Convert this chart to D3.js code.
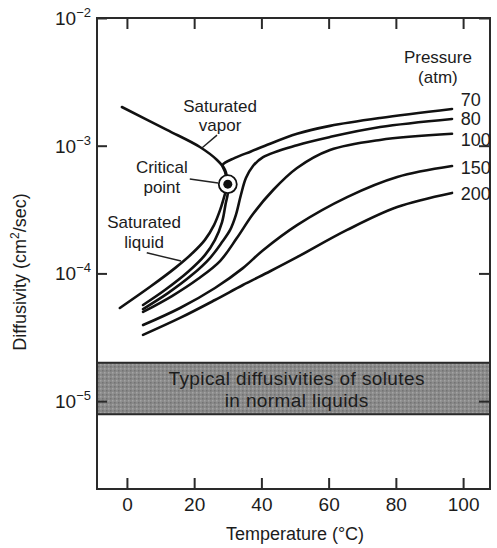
<!DOCTYPE html>
<html>
<head>
<meta charset="utf-8">
<script src="https://cdn.jsdelivr.net/npm/d3@7"></script>
<style>
  html, body { margin: 0; padding: 0; background: #fff; }
  svg text { font-family: "Liberation Sans", Arial, sans-serif; fill: #1c1c1c; }
</style>
</head>
<body>
<svg id="chart" width="497" height="548"></svg>
<script>
// Axis ticks
const temperatureTicks = [0, 20, 40, 60, 80, 100];
const diffusivityTicks = [1e-2, 1e-3, 1e-4, 1e-5];
const tickExponents = ["\u22122", "\u22123", "\u22124", "\u22125"];

// Curves: [temperature (°C), diffusivity (cm²/sec)]
const saturatedVapor = [[-1.5, 2.01e-3], [11.9, 1.33e-3], [21.7, 9.77e-4], [26.8, 7.73e-4], [29.2, 6.46e-4], [30, 5.0e-4]];
const saturatedLiquid = [[-2.1, 5.36e-5], [6.8, 7.82e-5], [14.3, 1.10e-4], [19.6, 1.45e-4], [23.2, 1.83e-4], [25.9, 2.39e-4], [27.7, 3.13e-4], [28.9, 3.96e-4], [30, 5.0e-4]];
const iso70 = [[4.8, 5.66e-5], [11.3, 7.41e-5], [18.2, 1.03e-4], [23.2, 1.39e-4], [26.2, 1.83e-4], [28.3, 2.52e-4], [29.3, 3.44e-4], [30.1, 4.5e-4], [29.2, 6.22e-4], [28.5, 7.06e-4], [32.1, 8.02e-4], [36.9, 9.01e-4], [41.1, 1.00e-3], [50.6, 1.24e-3], [60.4, 1.43e-3], [75.3, 1.65e-3], [96.7, 1.94e-3]];
const iso80 = [[4.8, 5.26e-5], [12.2, 7.01e-5], [19.3, 9.70e-5], [24.7, 1.32e-4], [28.3, 1.76e-4], [30.7, 2.19e-4], [32.4, 2.86e-4], [33.9, 4.11e-4], [35.4, 5.58e-4], [37.5, 6.93e-4], [40.5, 8.15e-4], [50.6, 1.01e-3], [60.4, 1.17e-3], [75.3, 1.40e-3], [96.7, 1.62e-3]];
const iso100 = [[4.8, 4.99e-5], [13.4, 6.65e-5], [21.1, 9.04e-5], [27.7, 1.25e-4], [32.7, 1.89e-4], [37.5, 2.92e-4], [43.5, 4.50e-4], [50.6, 6.69e-4], [60.4, 9.25e-4], [75.3, 1.11e-3], [96.7, 1.24e-3]];
const iso150 = [[4.8, 3.94e-5], [15.8, 5.36e-5], [26.2, 7.69e-5], [34.5, 1.10e-4], [40.5, 1.52e-4], [50.6, 2.39e-4], [65.5, 3.96e-4], [80.4, 5.69e-4], [96.7, 6.93e-4]];
const iso200 = [[4.8, 3.30e-5], [15.8, 4.48e-5], [26.2, 6.19e-5], [34.5, 8.11e-5], [42.6, 1.04e-4], [50.6, 1.34e-4], [65.5, 2.19e-4], [80.4, 3.31e-4], [96.7, 4.27e-4]];
const pressures = ["70", "80", "100", "150", "200"];
const isobars = [iso70, iso80, iso100, iso150, iso200];

const criticalPoint = [30, 5.0e-4];
// Range of solute diffusivities in ordinary liquids
const soluteBand = [7.9e-6, 2.0e-5];

const svg = d3.select("#chart");
const x = d3.scaleLinear().domain([-8.9, 108]).range([97, 490]);
const y = d3.scaleLog().domain([2.05e-6, 1e-2]).range([489, 18]);
const [x0, x1] = x.range();
const [yb, yt] = y.range();

// Halftone-like grey for the shaded band
const defs = svg.append("defs");
const pat = defs.append("pattern").attr("id", "grain")
  .attr("width", 4).attr("height", 4).attr("patternUnits", "userSpaceOnUse");
pat.append("rect").attr("width", 4).attr("height", 4).attr("fill", "#8a8a8a");
pat.append("rect").attr("x", 0).attr("y", 0).attr("width", 1.5).attr("height", 1.5).attr("fill", "#a4a4a4");
pat.append("rect").attr("x", 2).attr("y", 2).attr("width", 1.5).attr("height", 1.5).attr("fill", "#737373");

svg.append("rect")
  .attr("x", x0).attr("y", y(soluteBand[1]))
  .attr("width", x1 - x0).attr("height", y(soluteBand[0]) - y(soluteBand[1]))
  .attr("fill", "url(#grain)");
[soluteBand[0], soluteBand[1]].forEach(v => {
  svg.append("line").attr("x1", x0).attr("x2", x1).attr("y1", y(v)).attr("y2", y(v))
    .attr("stroke", "#2a2a2a").attr("stroke-width", 2);
});
const bandText = svg.append("text").attr("text-anchor", "middle")
  .attr("font-size", 19).attr("letter-spacing", 0.4).attr("fill", "#151515");
bandText.append("tspan").attr("x", x(50.5)).attr("y", y(soluteBand[1]) + 22).text("Typical diffusivities of solutes");
bandText.append("tspan").attr("x", x(50.5)).attr("dy", 22).text("in normal liquids");

// Axes with inward ticks on all four sides
function styleAxis(g) {
  g.select(".domain").remove();
  g.selectAll(".tick line").attr("stroke", "#2a2a2a").attr("stroke-width", 2);
}
svg.append("g").attr("transform", `translate(0,${yb})`)
  .call(d3.axisBottom(x).tickValues(temperatureTicks).tickSize(-11).tickPadding(9).tickFormat(d3.format("d")))
  .call(styleAxis)
  .call(g => g.selectAll(".tick text").attr("font-size", 19).attr("font-family", "Liberation Sans, Arial, sans-serif").attr("fill", "#1c1c1c"));
svg.append("g").attr("transform", `translate(0,${yt})`)
  .call(d3.axisTop(x).tickValues(temperatureTicks).tickSize(-11).tickFormat(""))
  .call(styleAxis);
svg.append("g").attr("transform", `translate(${x0},0)`)
  .call(d3.axisLeft(y).tickValues(diffusivityTicks).tickSize(-10).tickFormat(""))
  .call(styleAxis);
svg.append("g").attr("transform", `translate(${x1},0)`)
  .call(d3.axisRight(y).tickValues(diffusivityTicks).tickSize(-11).tickFormat(""))
  .call(styleAxis);

// Power-of-ten labels
diffusivityTicks.forEach((v, i) => {
  const t = svg.append("text").attr("x", 91).attr("y", y(v) + 7)
    .attr("text-anchor", "end").attr("font-size", 19);
  t.append("tspan").text("10");
  t.append("tspan").attr("dy", -8).attr("font-size", 13).text(tickExponents[i]);
});

// Plot frame
svg.append("rect").attr("x", x0).attr("y", yt)
  .attr("width", x1 - x0).attr("height", yb - yt)
  .attr("fill", "none").attr("stroke", "#2a2a2a").attr("stroke-width", 2);

// Curves
const line = d3.line()
  .x(d => x(d[0])).y(d => y(d[1]))
  .curve(d3.curveCatmullRom.alpha(0.5));
const curves = svg.append("g").attr("fill", "none").attr("stroke", "#111")
  .attr("stroke-width", 2.6).attr("stroke-linecap", "round");
[saturatedVapor, saturatedLiquid, ...isobars].forEach(c => curves.append("path").attr("d", line(c)));

// Critical point marker
svg.append("circle").attr("cx", x(criticalPoint[0])).attr("cy", y(criticalPoint[1]))
  .attr("r", 9).attr("fill", "#fff").attr("stroke", "#111").attr("stroke-width", 1.8);
svg.append("circle").attr("cx", x(criticalPoint[0])).attr("cy", y(criticalPoint[1]))
  .attr("r", 4.5).attr("fill", "#111");

// Pressure labels at the curve ends
const labelShift = [-3, 6, 12, 8, 7];
isobars.forEach((c, i) => {
  const end = c[c.length - 1];
  svg.append("text").attr("x", x(99.3)).attr("y", y(end[1]) + labelShift[i])
    .attr("font-size", 18).text(pressures[i]);
});

// Annotations
const notes = [
  { lines: ["Saturated", "vapor"], t: 27.7, d: 1.84e-3, gap: 19 },
  { lines: ["Critical", "point"], t: 10.4, d: 6.11e-4, gap: 20 },
  { lines: ["Saturated", "liquid"], t: 5.1, d: 2.27e-4, gap: 20 },
  { lines: ["Pressure", "(atm)"], t: 92.5, d: 4.44e-3, gap: 20 }
];
notes.forEach(n => {
  const t = svg.append("text").attr("text-anchor", "middle").attr("font-size", 17);
  n.lines.forEach((s, k) => t.append("tspan").attr("x", x(n.t))
    .attr(k ? "dy" : "y", k ? n.gap : y(n.d)).text(s));
});
const pointers = [
  [[26.8, 1.21e-3], [22.3, 9.59e-4]],
  [[18.7, 5.48e-4], [27.1, 5.10e-4]],
  [[5.9, 1.45e-4], [16.1, 1.25e-4]]
];
pointers.forEach(p => {
  svg.append("line")
    .attr("x1", x(p[0][0])).attr("y1", y(p[0][1]))
    .attr("x2", x(p[1][0])).attr("y2", y(p[1][1]))
    .attr("stroke", "#222").attr("stroke-width", 1.4);
});

// Axis titles
const yTitle = svg.append("text").attr("text-anchor", "middle").attr("font-size", 18)
  .attr("transform", "translate(26,272) rotate(-90)");
yTitle.append("tspan").text("Diffusivity (cm");
yTitle.append("tspan").attr("dy", -7).attr("font-size", 12).text("2");
yTitle.append("tspan").attr("dy", 7).text("/sec)");
svg.append("text").attr("x", 295).attr("y", 540).attr("text-anchor", "middle")
  .attr("font-size", 18).text("Temperature (\u00B0C)");
</script>
</body>
</html>
